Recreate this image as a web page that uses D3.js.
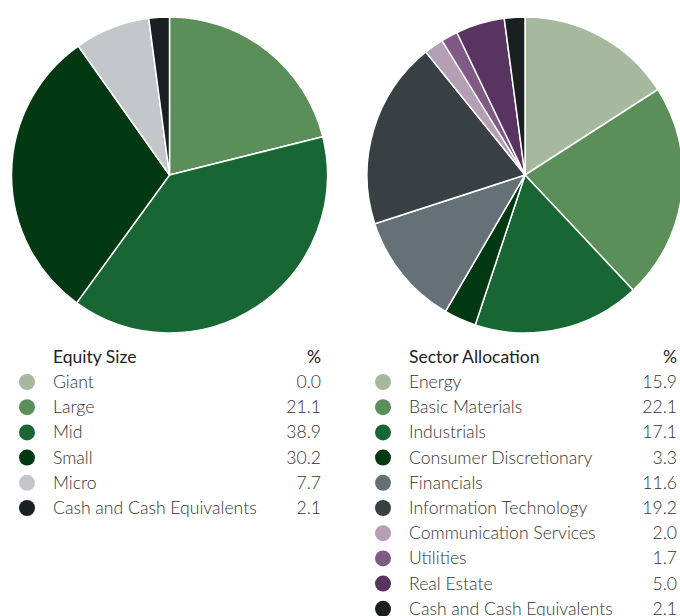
<!DOCTYPE html>
<html>
<head>
<meta charset="utf-8">
<script src="https://cdn.jsdelivr.net/npm/d3@7"></script>
<style>
  body { margin: 0; background: #fff; }
  svg text { font-family: Lato, "Open Sans", sans-serif; fill: #222; }
</style>
</head>
<body>
<div id="chart"></div>
<script>
// equity size
const sizeNames = ["Giant", "Large", "Mid", "Small", "Micro", "Cash and Cash Equivalents"];
const sizeValues = [0.0, 21.1, 38.9, 30.2, 7.7, 2.1];
const sizeColors = ["#a6b99e", "#5a8f5a", "#186634", "#023812", "#c4c7c9", "#1a1f22"];

// sector allocation
const sectorNames = ["Energy", "Basic Materials", "Industrials", "Consumer Discretionary", "Financials",
    "Information Technology", "Communication Services", "Utilities", "Real Estate", "Cash and Cash Equivalents"];
const sectorValues = [15.9, 22.1, 17.1, 3.3, 11.6, 19.2, 2.0, 1.7, 5.0, 2.1];
const sectorColors = ["#a6b99e", "#5a8f5a", "#186634", "#023812", "#667177",
    "#384044", "#b49fb5", "#7e5a85", "#5a3460", "#1a1f22"];

const width = 680, height = 616;
const radius = 158;

const svg = d3.select("#chart").append("svg")
    .attr("width", width)
    .attr("height", height);

function drawPanel(cx, legendX, valueX, title, names, values, colors) {
    let data = names.map(function (n, i) {
        return {name: n, value: values[i], color: colors[i]};
    });

    let pie = d3.pie().sort(null).value(d => d.value);
    let arc = d3.arc().innerRadius(0).outerRadius(radius);

    let g = svg.append("g")
        .attr("transform", "translate(" + cx + ",175)");

    g.selectAll("path")
        .data(pie(data).filter(d => d.data.value > 0))
        .enter().append("path")
        .attr("d", arc)
        .attr("fill", d => d.data.color)
        .attr("stroke", "#fff")
        .attr("stroke-width", 1.5);

    // legend
    let leg = svg.append("g");
    leg.append("text")
        .attr("x", legendX)
        .attr("y", 363)
        .attr("font-size", 17.5)
        .attr("font-weight", 400)
        .text(title);
    leg.append("text")
        .attr("x", valueX)
        .attr("y", 363)
        .attr("text-anchor", "end")
        .attr("font-size", 17.5)
        .attr("font-weight", 400)
        .text("%");

    let rows = leg.selectAll(".row")
        .data(data)
        .enter().append("g")
        .attr("transform", (d, i) => "translate(0," + (382 + i * 25.2) + ")");

    rows.append("circle")
        .attr("cx", legendX - 26)
        .attr("cy", 0)
        .attr("r", 8)
        .attr("fill", d => d.color);
    rows.append("text")
        .attr("x", legendX)
        .attr("y", 6)
        .attr("font-size", 17.6)
        .attr("font-weight", 300)
        .style("fill", "#333")
        .text(d => d.name);
    rows.append("text")
        .attr("x", valueX)
        .attr("y", 6)
        .attr("text-anchor", "end")
        .attr("font-size", 17.6)
        .attr("font-weight", 300)
        .style("fill", "#333")
        .text(d => d.value.toFixed(1));
}

drawPanel(169.5, 53, 321, "Equity Size", sizeNames, sizeValues, sizeColors);
drawPanel(525, 409, 677, "Sector Allocation", sectorNames, sectorValues, sectorColors);
</script>
</body>
</html>
